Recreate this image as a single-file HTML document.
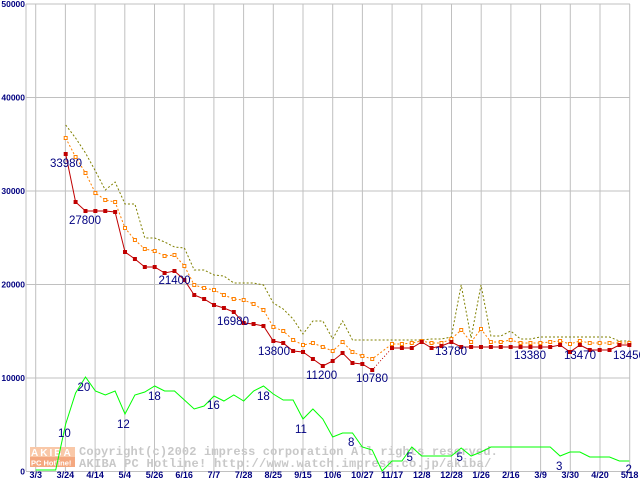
<!DOCTYPE html>
<html><head><meta charset="utf-8"><style>
html,body{margin:0;padding:0;background:#fff;}
svg{display:block;}
</style></head><body>
<svg id="c" width="640" height="480" xmlns="http://www.w3.org/2000/svg" font-family="Liberation Sans, sans-serif"></svg>
<script>
var s=document.getElementById('c');var NS='http://www.w3.org/2000/svg';
function el(t,a,txt){var e=document.createElementNS(NS,t);for(var k in a)e.setAttribute(k,a[k]);if(txt!=null)e.textContent=txt;s.appendChild(e);return e;}
function Y(v){return 4+(50000-v)*0.00935;}
// grid
for(var i=0;i<21;i++){var x=35.7+29.7*i;el('line',{x1:x,y1:4,x2:x,y2:471,stroke:'#c0c0c0','stroke-width':1});}
el('line',{x1:26,y1:4,x2:26,y2:471,stroke:'#c0c0c0','stroke-width':1});
var yl=['50000','40000','30000','20000','10000','0'];
for(var j=0;j<6;j++){var y=Y(50000-j*10000);el('line',{x1:26,y1:y,x2:630,y2:y,stroke:'#c0c0c0','stroke-width':1});
el('text',{x:25,y:y+3,'font-size':8.5,'font-weight':'bold',fill:'#000080','text-anchor':'end'},yl[j]);}
var xl=['3/3','3/24','4/14','5/4','5/26','6/16','7/7','7/28','8/25','9/15','10/6','10/27','11/17','12/8','12/28','1/26','2/16','3/9','3/30','4/20','5/18'];
for(var i=0;i<21;i++){el('text',{x:35.7+29.7*i,y:478,'font-size':9,'font-weight':'bold',fill:'#000080','text-anchor':'middle'},xl[i]);}
// watermark
el('rect',{x:30,y:447,width:45,height:10,fill:'#f9c8a8'});
el('rect',{x:30,y:457,width:45,height:10,fill:'#f4a880'});
el('text',{x:31,y:456,'font-size':10,'font-weight':'bold',fill:'#fff','letter-spacing':'2'},'AKIBA');
el('text',{x:31,y:465.5,'font-size':7.5,'font-weight':'bold',fill:'#fff'},'PC Hotline!');
el('text',{x:79,y:455,'font-size':12,'font-weight':'bold',fill:'#c8c8c8','font-family':'Liberation Mono, monospace','letter-spacing':'0.15'},'Copyright(c)2002 impress corporation All rights reserved.');
el('text',{x:79,y:467,'font-size':12,'font-weight':'bold',fill:'#c8c8c8','font-family':'Liberation Mono, monospace','letter-spacing':'0.3'},'AKIBA PC Hotline!  http://www.watch.impress.co.jp/akiba/');
function X(i){return 65.7+9.888*i;}
function pts(a,from,to){var r=[];for(var i=from;i<=to;i++){if(a[i]!=null)r.push(X(i).toFixed(1)+','+a[i]);}return r.join(' ');}
var olive=[125,138,153,171,190,182,204,204,238,238,242,247,248,270,270,275,276,283,283,283,285,303,309,319,334,321,321,339,321,340,340,340,340,340,340,340,340,339,339,337,285,338,285,336,336,331,339,339,337,337,337,337,337,337,337,337,341,341];
var orange=[138,157,173,193,200,202,228,240,249,251,256,255,266,285,288,290,295,299,300,304,310,327,331,340,345,343,347,351,342,352,356,359,null,344,344,343,341,343,343,339,330,342,329,342,342,340,343,343,343,342,341,344,341,343,343,343,343,343];
var red=[154,202,211,211,211,212,252,259,267,267,273,271,280,295,299,305,308,312,323,324,326,341,343,351,352,359,366,361,353,363,364,370,null,348,348,348,342,348,346,342,347,347,347,347,347,347,347,347,347,347,345,352,345,350,350,350,345,345];
var green=[424,393,377,391,395,391,414,395,392,386,391,391,400,409,406,396,401,395,401,391,386,394,400,400,419,409,419,437,433,433,447,450,471,461,461,447,456,456,456,456,448,456,452,447,447,447,447,447,447,447,456,452,452,457,457,457,461,461];
el('polyline',{points:'35.7,470 45.7,470 55.7,470 '+pts(green,0,57),fill:'none',stroke:'#00ff00','stroke-width':1});
el('polyline',{points:pts(olive,0,57),fill:'none',stroke:'#808000','stroke-width':1,'stroke-dasharray':'2,2'});
el('polyline',{points:pts(orange,0,57),fill:'none',stroke:'#ff8000','stroke-width':1,'stroke-dasharray':'2,2'});
for(var i=0;i<58;i++)if(orange[i]!=null)el('rect',{x:X(i)-1.5,y:orange[i]-1.5,width:3,height:3,fill:'#fff',stroke:'#ff8000','stroke-width':1});
el('polyline',{points:pts(red,0,31),fill:'none',stroke:'#c00000','stroke-width':1});
el('polyline',{points:X(31)+','+red[31]+' '+X(33)+','+red[33],fill:'none',stroke:'#c00000','stroke-width':1,'stroke-dasharray':'1,2'});
el('polyline',{points:pts(red,33,57),fill:'none',stroke:'#c00000','stroke-width':1});
for(var i=0;i<58;i++)if(red[i]!=null)el('rect',{x:X(i)-2,y:red[i]-2,width:4,height:4,fill:'#c00000'});
var lab=[[50,167,'33980'],[69,224,'27800'],[158.5,284,'21400'],[217,325,'16980'],[258,355,'13800'],[306,379,'11200'],[356,382,'10780'],[435,355,'13780'],[514,359,'13380'],[564,359,'13470'],[613,359,'13450'],
[58,437,'10'],[77.5,391,'20'],[117,428,'12'],[148,400,'18'],[207,409,'16'],[257,400,'18'],[295,433,'11'],[348,446,'8'],[406.5,461,'5'],[456.5,461,'5'],[556,470,'3'],[625.5,473,'2']];
for(var k=0;k<lab.length;k++)el('text',{x:lab[k][0],y:lab[k][1],'font-size':11.5,fill:'#000080'},lab[k][2]);
</script>
</body></html>
